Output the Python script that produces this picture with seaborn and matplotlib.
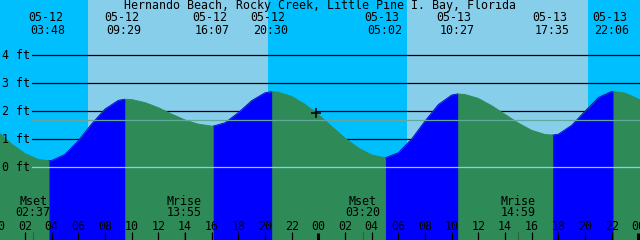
import numpy as np
import pandas as pd
import matplotlib
matplotlib.use("Agg")
import matplotlib.pyplot as plt
import seaborn as sns

# ---------------- data ----------------
title = "Hernando Beach, Rocky Creek, Little Pine I. Bay, Florida"
day_start = {"05-12": 0, "05-13": 24}

tide_dates = ["05-12", "05-12", "05-12", "05-12", "05-13", "05-13", "05-13", "05-13"]
tide_times = ["03:48", "09:29", "16:07", "20:30", "05:02", "10:27", "17:35", "22:06"]
tide_ft = [0.23, 2.43, 1.47, 2.70, 0.34, 2.62, 1.15, 2.71]
tide_kind = ["low", "high", "low", "high", "low", "high", "low", "high"]

# water level, hourly from 05-12 -01:00 to 05-14 01:00
curve_hours = list(range(-1, 50))
curve_ft = [1.71, 1.26, 0.83, 0.49, 0.28, 0.24, 0.46, 0.95, 1.55, 2.08,
            2.39, 2.42, 2.31, 2.13, 1.90, 1.69, 1.54, 1.47, 1.59, 1.95,
            2.38, 2.66, 2.68, 2.53, 2.25, 1.88, 1.46, 1.04, 0.69, 0.44,
            0.34, 0.52, 1.01, 1.65, 2.24, 2.58, 2.60, 2.46, 2.20, 1.89,
            1.58, 1.32, 1.17, 1.18, 1.50, 2.00, 2.49, 2.71, 2.65, 2.44,
            2.11]

sun_dates = ["05-12", "05-12", "05-13", "05-13"]
sun_times = ["06:44", "20:13", "06:40", "20:15"]

moon_labels = ["Mset", "Mrise", "Mset", "Mrise"]
moon_dates = ["05-12", "05-12", "05-13", "05-13"]
moon_times = ["02:37", "13:55", "03:20", "14:59"]

level_values = [0, 1, 2, 3, 4]
level_labels = ["0 ft", "1 ft", "2 ft", "3 ft", "4 ft"]
msl_ft = 1.69

hour_ticks = list(range(0, 49, 2))
hour_labels = ["%02d" % (h % 24) for h in hour_ticks]

now_date, now_time, now_ft = "05-12", "23:50", 1.94

view_start, view_end = 0.125, 48.125
y_bottom, y_top = -2.6, 5.975

# ---------------- helpers ----------------
def to_h(d, t):
    hh, mm = t.split(":")
    return day_start[d] + int(hh) + int(mm) / 60.0

tide_h = [to_h(d, t) for d, t in zip(tide_dates, tide_times)]
sun_h = [to_h(d, t) for d, t in zip(sun_dates, sun_times)]
moon_h = [to_h(d, t) for d, t in zip(moon_dates, moon_times)]

# build segment table (rising = flood, falling = ebb)
bounds = [-np.inf] + tide_h + [np.inf]
rows = []
for i in range(len(bounds) - 1):
    a, b = bounds[i], bounds[i + 1]
    if i < len(tide_kind):
        phase = "rising" if tide_kind[i] == "high" else "falling"
    else:
        phase = "falling"
    pts = [(h, f) for h, f in zip(curve_hours, curve_ft) if a < h < b]
    if i > 0:
        pts.append((tide_h[i - 1], tide_ft[i - 1]))
    if i < len(tide_h):
        pts.append((tide_h[i], tide_ft[i]))
    pts.sort()
    for h, f in pts:
        rows.append({"hour": h, "ft": f, "seg": i, "phase": phase})
df = pd.DataFrame(rows)

# ---------------- style ----------------
sns.set_theme(style="white")
plt.rcParams["font.family"] = ["DejaVu Sans Mono", "DejaVu Sans"]
FS = 8.4

NIGHT = "#00BFFF"
DAY = "#87CEEB"
FLOOD = "#0000FF"
EBB = "#2E8B57"

fig = plt.figure(figsize=(6.4, 2.4), dpi=100)
ax = fig.add_axes([0, 0, 1, 1])

# sky background
edges = [view_start] + sun_h + [view_end]
for i in range(len(edges) - 1):
    ax.axvspan(edges[i], edges[i + 1], color=NIGHT if i % 2 == 0 else DAY,
               lw=0, zorder=0)

# level lines behind water
x0 = 32 / 640
for v in level_values[1:]:
    ax.axhline(v, xmin=x0, xmax=1, color="black", lw=0.9, zorder=1)

# water fill
allpts = df.drop_duplicates("hour").sort_values("hour")
ax.fill_between(allpts["hour"], allpts["ft"], y_bottom, color=EBB, lw=0, zorder=2)
for seg, g in df.groupby("seg"):
    if g["phase"].iloc[0] == "rising":
        ax.fill_between(g["hour"], g["ft"], y_bottom, color=FLOOD, lw=0, zorder=2.1)

sns.lineplot(data=df, x="hour", y="ft", hue="phase", units="seg",
             estimator=None, palette={"rising": FLOOD, "falling": EBB},
             lw=0.6, legend=False, ax=ax, zorder=2.2)
ax.set_xlim(view_start, view_end)
ax.set_ylim(y_bottom, y_top)
ax.axis("off")

# datum and mean sea level lines
ax.axhline(level_values[0], xmin=x0, xmax=1, color="#87CEFA", lw=0.9, zorder=3)
ax.axhline(msl_ft, xmin=x0, xmax=1, color="#62A89C", lw=0.9, zorder=3)

# level labels
ytr = ax.get_yaxis_transform()
for v, lab in zip(level_values, level_labels):
    ax.text(2 / 640, v, lab, transform=ytr, ha="left", va="center",
            fontsize=FS, color="black", zorder=5)

xtr = ax.get_xaxis_transform()

# title
ax.text(0.5, 1 - 6 / 240, title, transform=ax.transAxes, ha="center",
        va="center", fontsize=FS, color="black", zorder=5)

# tide event labels
for h, d, t in zip(tide_h, tide_dates, tide_times):
    ax.annotate(d, (h, 1 - 17.5 / 240), xycoords=xtr, xytext=(-3.5, 0),
                textcoords="offset pixels", ha="center", va="center",
                fontsize=FS, color="black", zorder=5)
    ax.annotate(t, (h, 1 - 30 / 240), xycoords=xtr, xytext=(-1, 0),
                textcoords="offset pixels", ha="center", va="center",
                fontsize=FS, color="black", zorder=5)

# moon events
for h, lab, t in zip(moon_h, moon_labels, moon_times):
    ax.text(h, 1 - 201.5 / 240, lab, transform=xtr, ha="center", va="center",
            fontsize=FS, color="black", zorder=5)
    ax.text(h, 1 - 213 / 240, t, transform=xtr, ha="center", va="center",
            fontsize=FS, color="black", zorder=5)
    ax.vlines(h, 0, 8 / 240, transform=xtr, color="#2F5F45", lw=0.8, zorder=4)

# hour ticks
for h, lab in zip(hour_ticks, hour_labels):
    ax.text(h, 1 - 226 / 240, lab, transform=xtr, ha="center", va="center",
            fontsize=FS, color="black", zorder=5)
    if h % 24 == 0:
        ax.vlines(h, 0, 7 / 240, transform=xtr, color="black", lw=2.2, zorder=4)
    else:
        ax.vlines(h, 0, 8 / 240, transform=xtr, color="black", lw=0.9, zorder=4)

# current time marker
ax.plot([to_h(now_date, now_time)], [now_ft], marker="+", ms=6.5, mew=1.1,
        color="black", zorder=6)

fig.savefig("out.png", dpi=100)
